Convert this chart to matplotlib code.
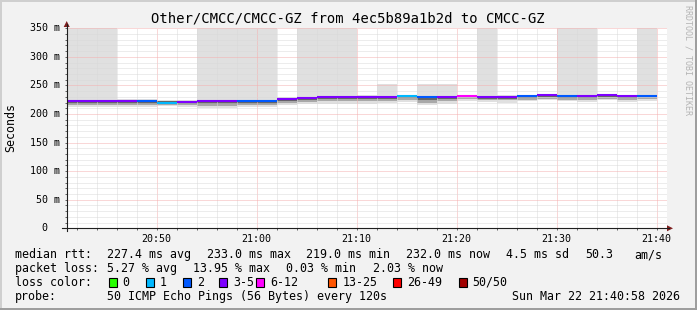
import matplotlib
matplotlib.use("Agg")
import matplotlib.pyplot as plt
from matplotlib.lines import Line2D
from matplotlib.patches import Rectangle, Polygon
import numpy as np

W, H = 697, 310

title = "Other/CMCC/CMCC-GZ from 4ec5b89a1b2d to CMCC-GZ"

# 2 minute steps, the first one starts at 20:41
first_start = "20:41"
step_ends = ["20:42", "20:44", "20:46", "20:48", "20:50", "20:52", "20:54", "20:56",
             "20:58", "21:00", "21:02", "21:04", "21:06", "21:08", "21:10", "21:12",
             "21:14", "21:16", "21:18", "21:20", "21:22", "21:24", "21:26", "21:28",
             "21:30", "21:32", "21:34", "21:36", "21:38", "21:40"]

median_ms = [223, 223, 223, 223, 223, 219.5, 221.5, 223, 223, 223, 223, 227, 228.5, 230, 230,
             230, 230, 231, 230, 230, 232, 230.5, 230.5, 231, 233, 231, 231, 233, 231, 232]
# index into loss_labels
loss_bucket = [3, 3, 3, 3, 2, 1, 3, 3, 3, 2, 2, 3, 3, 3, 3,
               3, 3, 1, 2, 3, 4, 3, 3, 2, 3, 2, 3, 3, 3, 2]

# smoke (ping spread), 400 = above the top of the chart
smoke_max = [400, 400, 400, 226, 226, 224, 225, 400, 400, 400, 400, 230, 400, 400, 400,
             233, 252, 234, 252, 252, 234, 400, 233, 234, 235, 400, 400, 235, 233, 400]
smoke_q3 = [224, 224, 224, 224, 224, 223.5, 222.5, 224, 224, 224, 224, 228, 229.5, 231, 231,
            231, 231, 232, 231, 231, 233, 231.5, 231.5, 232, 234, 232, 232, 234, 232, 233]
smoke_q1 = [218, 218, 218, 218, 218, 217, 218, 217, 217, 218, 218, 222, 224, 226, 226,
            227, 227, 228, 225, 226, 229, 227, 227, 228, 230, 228, 228, 230, 228, 229]
smoke_p10 = [215, 215, 215, 215, 215, 216, 216, 214, 214, 215, 215, 219, 221, 222, 222,
             223, 223, 225, 220, 222, 226, 224, 224, 225, 227, 225, 224, 227, 225, 226]
smoke_min = [212, 212, 212, 213, 213, 214, 213, 211, 211, 212, 212, 216, 217, 218, 218,
             218, 219, 221, 215, 217, 222, 221, 219, 222, 224, 222, 221, 224, 221, 223]

loss_labels = ["0", "1", "2", "3-5", "6-12", "13-25", "26-49", "50/50"]
loss_colors = ["#26ff00", "#00b8ff", "#0059ff", "#7e00ff", "#ff00ff", "#ff5500", "#ff0000", "#a10000"]

y_ticks = [0, 50, 100, 150, 200, 250, 300, 350]
y_tick_labels = ["0", "50 m", "100 m", "150 m", "200 m", "250 m", "300 m", "350 m"]
x_tick_labels = ["20:50", "21:00", "21:10", "21:20", "21:30", "21:40"]

legend_rows = [
    [(16, "median rtt:"), (107.3, "227.4 ms avg"), (207.3, "233.0 ms max"), (306.3, "219.0 ms min"),
     (407, "232.0 ms now"), (506.7, "4.5 ms sd"), (586, "50.3"), (635, "am/s")],
    [(16, "packet loss:"), (107.3, "5.27 % avg"), (193.3, "13.95 % max"), (286.7, "0.03 % min"),
     (373.3, "2.03 % now")],
]
probe_text = "50 ICMP Echo Pings (56 Bytes) every 120s"
date_text = "Sun Mar 22 21:40:58 2026"


def to_min(s):
    h, m = s.split(":")
    return int(h) * 60 + int(m)


def px(x, y):
    # pixel position (from top left) -> figure fraction
    return x / W, 1 - y / H


plt.rcParams["font.family"] = ["DejaVu Sans Mono"]

fig = plt.figure(figsize=(W / 100, H / 100), dpi=100)
fig.patch.set_facecolor("#f2f2f2")

left, right, top, bottom = 66.7, 666.7, 28.3, 228.3
ax = fig.add_axes([left / W, 1 - bottom / H, (right - left) / W, (bottom - top) / H])
ax.set_facecolor("white")

ends = np.array([to_min(s) for s in step_ends])
starts = np.concatenate([[to_min(first_start)], ends[:-1]])
edges = np.concatenate([starts, ends[-1:]])


def ext(a):
    a = np.asarray(a, dtype=float)
    return np.concatenate([a, a[-1:]])


# smoke layers, lightest (widest) first
ax.fill_between(edges, ext(smoke_min), ext(smoke_max), step="post", color="#e0e0e0", lw=0, zorder=1)
ax.fill_between(edges, ext(smoke_p10), ext(smoke_q3), step="post", color="#a8a8a8", lw=0, zorder=1.1)
ax.fill_between(edges, ext(smoke_q1), ext(smoke_q3), step="post", color="#656565", lw=0, zorder=1.2)

ax.hlines(median_ms, starts, ends, colors=[loss_colors[b] for b in loss_bucket], lw=1.5, zorder=3)

ax.set_xlim(to_min(first_start), to_min("21:41"))
ax.set_ylim(0, 350)

ax.set_xticks([to_min(s) for s in x_tick_labels])
ax.set_xticklabels(x_tick_labels)
ax.set_xticks(np.arange(to_min("20:42"), to_min("21:41"), 2), minor=True)
ax.set_yticks(y_ticks)
ax.set_yticklabels([])
ax.set_yticks(np.arange(0, 351, 10), minor=True)

ax.set_axisbelow(False)
ax.grid(which="major", color="#f5b0b0", linestyle=(0, (1, 1)), lw=0.72)
ax.grid(which="minor", color="#dadada", linestyle=(0, (1, 1)), lw=0.72)
ax.tick_params(which="both", direction="out", length=1.6, width=0.72, color="#666666",
               labelsize=7.2, pad=2.2)

for s in ax.spines.values():
    s.set_visible(False)

# y tick labels, the "0" lines up with the digits of the others
for v, lab in zip(y_ticks, y_tick_labels):
    dx = -5.0 if lab.endswith("m") else -5.0 - 8.6
    ax.annotate(lab, xy=(0, v), xycoords=("axes fraction", "data"), xytext=(dx, 0),
                textcoords="offset points", ha="right", va="center", fontsize=7.2)

# axes with arrows
axis_col = "#1f1f1f"
arrow_col = "#801f1f"
fig.add_artist(Line2D(*zip(px(61.7, bottom), px(669, bottom)), color=axis_col, lw=0.8))
fig.add_artist(Line2D(*zip(px(left, 231), px(left, 24)), color=axis_col, lw=0.8))
fig.add_artist(Polygon([px(673, bottom), px(667, bottom - 3), px(667, bottom + 3)],
                       closed=True, color=arrow_col, lw=0))
fig.add_artist(Polygon([px(left, 21), px(left - 3, 27), px(left + 3, 27)],
                       closed=True, color=arrow_col, lw=0))

# texts
fig.text(*px(347.5, 19), title, fontsize=10, ha="center", va="center")
fig.text(*px(11, 128), "Seconds", fontsize=8.4, rotation=90, ha="center", va="center")
fig.text(*px(688, 60), "RRDTOOL / TOBI OETIKER", fontsize=6, rotation=270,
         color="#b4b4b4", ha="center", va="center")

row_y = [254.5, 268.5, 282.3, 296.2]
for row, y in zip(legend_rows, row_y):
    for x, s in row:
        fig.text(*px(x - 0.7, y), s, fontsize=8.4, ha="left", va="center")

fig.text(*px(15.3, row_y[2]), "loss color:", fontsize=8.4, ha="left", va="center")
box_x = [108.7, 145.7, 182.7, 219.3, 256, 328.3, 393.3, 458.7]
for bx, lab, col in zip(box_x, loss_labels, loss_colors):
    x0, y0 = px(bx, row_y[2] + 4.3)
    fig.add_artist(Rectangle((x0, y0), 8 / W, 8.6 / H, transform=fig.transFigure,
                             facecolor=col, edgecolor="black", lw=0.8))
    fig.text(*px(bx + 14, row_y[2]), lab, fontsize=8.4, ha="left", va="center")

fig.text(*px(15.3, row_y[3]), "probe:", fontsize=8.4, ha="left", va="center")
fig.text(*px(106.6, row_y[3]), probe_text, fontsize=8.4, ha="left", va="center")
fig.text(*px(680.5, row_y[3]), date_text, fontsize=8.4, ha="right", va="center")

# 3d-ish border
fig.add_artist(Rectangle(px(0, 2), 1, 2 / H, transform=fig.transFigure, color="#cfcfcf", lw=0))
fig.add_artist(Rectangle(px(0, H), 2 / W, 1, transform=fig.transFigure, color="#cfcfcf", lw=0))
fig.add_artist(Rectangle(px(0, H), 1, 2 / H, transform=fig.transFigure, color="#9e9e9e", lw=0))
fig.add_artist(Rectangle(px(W - 2, H), 2 / W, 1, transform=fig.transFigure, color="#9e9e9e", lw=0))

fig.savefig("out.png", dpi=100, facecolor=fig.get_facecolor())
